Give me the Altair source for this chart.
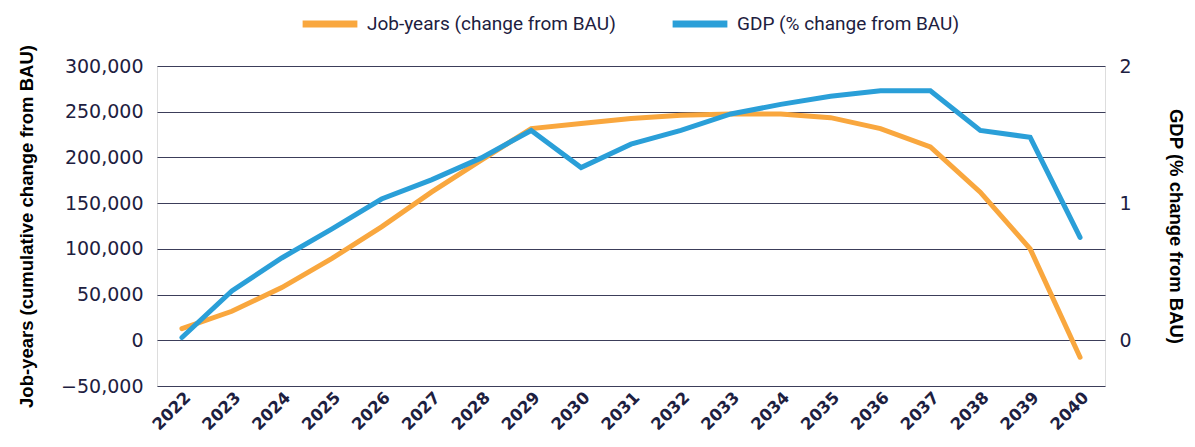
import altair as alt
import pandas as pd

years = list(range(2022, 2041))
job_years = [12800, 31700, 57600, 89300, 124000, 162000, 197000, 231500, 237000,
             242500, 246000, 247500, 247500, 243500, 231500, 211500, 162000, 100000, -18500]
gdp = [0.02, 0.36, 0.60, 0.81, 1.03, 1.17, 1.33, 1.53, 1.26, 1.43, 1.53, 1.65,
       1.72, 1.78, 1.82, 1.82, 1.53, 1.48, 0.75]

series_names = ["Job-years (change from BAU)", "GDP (% change from BAU)"]
series_colors = ["#F9A73E", "#2A9FD8"]
left_ticks = [-50000, 0, 50000, 100000, 150000, 200000, 250000, 300000]
right_ticks = [0, 1, 2]

df = pd.DataFrame({"year": years, "jobs": job_years, "gdp": gdp})

TEXT = "#1d2040"
color_scale = alt.Scale(domain=series_names, range=series_colors)

x_enc = alt.X(
    "year:O",
    scale=alt.Scale(type="point", padding=0.5),
    axis=alt.Axis(title=None, labelAngle=-45, domain=False, ticks=False, grid=False,
                  labelFontSize=16.5, labelFont="DejaVu Sans", labelFontWeight="bold",
                  labelColor=TEXT, labelPadding=3),
)

base = alt.Chart(df)

jobs_line = base.transform_calculate(series=f"'{series_names[0]}'").mark_line(
    strokeWidth=5, strokeJoin="miter", strokeCap="round"
).encode(
    x=x_enc,
    y=alt.Y(
        "jobs:Q",
        scale=alt.Scale(domain=[-50000, 300000], nice=False, zero=False),
        axis=alt.Axis(
            title="Job-years (cumulative change from BAU)",
            values=left_ticks, format=",d", grid=True, gridColor="#3c3e5a", gridWidth=1.2,
            domain=False, ticks=False, labelFontSize=19, labelFont="DejaVu Sans",
            labelColor=TEXT, labelPadding=14, titleFontSize=18.5, titleFont="Liberation Sans",
            titleFontWeight="bold", titleColor="#000000", titlePadding=24,
        ),
    ),
    color=alt.Color("series:N", scale=color_scale, legend=alt.Legend(
        title=None, orient="none", legendX=142, legendY=-73, direction="horizontal",
        symbolType="stroke", symbolStrokeWidth=7, symbolSize=3000,
        labelFont="Roboto", labelFontSize=19, labelColor=TEXT, labelOffset=6,
        labelLimit=0, columnPadding=42,
    )),
)

gdp_line = base.transform_calculate(series=f"'{series_names[1]}'").mark_line(
    strokeWidth=5, strokeJoin="miter", strokeCap="round"
).encode(
    x=x_enc,
    y=alt.Y(
        "gdp:Q",
        scale=alt.Scale(domain=[-1 / 3, 2], nice=False, zero=False),
        axis=alt.Axis(
            title="GDP (% change from BAU)", orient="right",
            values=right_ticks, grid=False, domain=False, ticks=False,
            labelFontSize=19, labelFont="DejaVu Sans", labelColor=TEXT, labelPadding=14,
            titleFontSize=18.5, titleFont="Liberation Sans", titleFontWeight="bold",
            titleColor="#000000", titlePadding=34,
        ),
    ),
    color=alt.Color("series:N", scale=color_scale),
)

chart = alt.layer(jobs_line, gdp_line).resolve_scale(y="independent").properties(
    width=948, height=320,
    autosize=alt.AutoSizeParams(type="none"),
    padding={"left": 149, "top": 58, "right": 82, "bottom": 53},
).configure_view(stroke=None).configure(background="#ffffff")

chart.save("out.html", embed_options={"renderer": "svg", "actions": False})
